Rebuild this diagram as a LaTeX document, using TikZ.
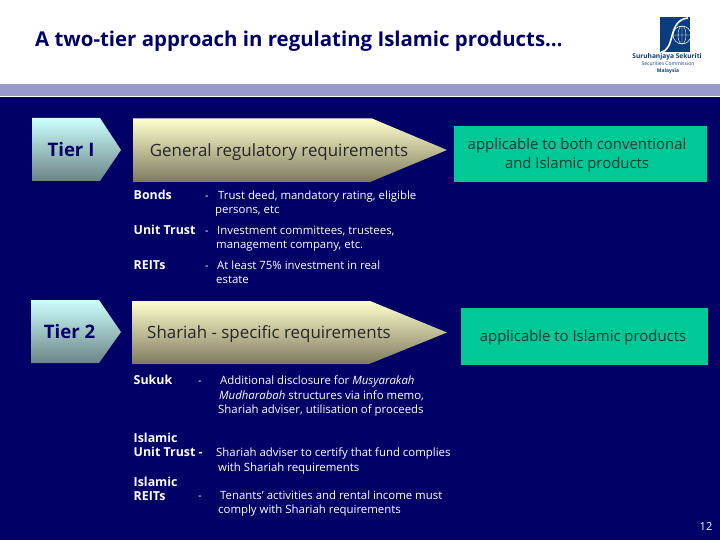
\documentclass[tikz,border=0pt]{standalone}
\usepackage{xcolor}
\usepackage{fontspec}
\setmainfont{Open Sans}
\definecolor{slideNavy}{HTML}{000066}
\definecolor{slideLavender}{HTML}{9999CC}
\definecolor{slideGreen}{HTML}{00C896}
\definecolor{logoBlue}{HTML}{0B3C7D}
\definecolor{tierTop}{HTML}{CCFFFF}
\definecolor{tierBottom}{HTML}{6C8484}
\definecolor{reqTop}{HTML}{FFFFCC}
\definecolor{reqBottom}{HTML}{7F7A60}
\definecolor{greenInk}{HTML}{0A3A32}
\tikzset{
  tierfill/.style={top color=tierTop,bottom color=tierBottom},
  reqfill/.style={top color=reqTop,bottom color=reqBottom},
  tierlabel/.style={text=slideNavy,font=\bfseries\fontsize{18.6}{22}\selectfont,inner sep=0pt},
  reqlabel/.style={text=black!85,font=\fontsize{16.9}{20}\selectfont,inner sep=0pt},
  kindlabel/.style={anchor=north west,align=left,text=white,font=\bfseries\fontsize{12.4}{14.2}\selectfont,inner sep=0pt},
  desclabel/.style={anchor=north west,align=left,text=white,font=\fontsize{11.4}{14.6}\selectfont,inner sep=0pt},
  dashlabel/.style={anchor=north west,text=white,text height=9pt,font=\fontsize{11}{14}\selectfont,inner sep=0pt},
  scopelabel/.style={text=greenInk,align=center,font=\fontsize{14.9}{19}\selectfont,inner sep=0pt},
  logolabel/.style={text=logoBlue,inner sep=0pt}
}
\begin{document}
\begin{tikzpicture}[x=1pt,y=-1pt]
  \useasboundingbox (0,0) rectangle (720,540);
  \fill[slideNavy] (0,0) rectangle (720,540);
  \fill[white] (0,0) rectangle (720,84);
  % Header band
  \fill[slideLavender] (0,84) rectangle (720,96);
  \fill[white] (0,96) rectangle (720,97);
  \node[anchor=west,text=slideNavy,inner sep=0pt,font=\bfseries\fontsize{20.4}{24}\selectfont] (title) at (35,41.5)
    {A two-tier approach in regulating Islamic products…};
  % Logo
  \fill[logoBlue] (660,17) rectangle (690,52);
  \draw[white,line width=0.5pt] (682,35) circle (9);
  \draw[white,line width=0.4pt] (682,26) -- (682,44) (673,35) -- (690,35) (682,35) ellipse (4 and 9);
  \draw[white,line width=1.6pt] (661,52) .. controls (676,50) and (667,20) .. (688,18);
  \node[logolabel,font=\bfseries\fontsize{6.6}{7}\selectfont] (logoname) at (667,57) {Suruhanjaya Sekuriti};
  \node[logolabel,font=\fontsize{5}{6}\selectfont] (logocomm) at (668,64) {Securities Commission};
  \node[logolabel,font=\bfseries\fontsize{5}{6}\selectfont] (logocountry) at (668,71.5) {Malaysia};
  % Tier I row
  \path[tierfill] (32,118) -- (100,118) -- (121,150) -- (100,181) -- (32,181) -- cycle;
  \node[tierlabel] (tierone) at (71,150) {Tier I};
  \path[reqfill] (133,118.5) -- (372,118.5) -- (447,150) -- (370,182) -- (133,182) -- cycle;
  \node[reqlabel] (general) at (279,152.5) {General regulatory requirements};
  \fill[slideGreen] (454,126) rectangle (707,182);
  \node[scopelabel] (bothscope) at (577,155.5) {applicable to both conventional\\and Islamic products};
  % General items
  \node[kindlabel] (bonds) at (133.5,190) {Bonds};
  \node[dashlabel] (bondsdash) at (205,190.5) {-};
  \node[desclabel] (bondstext) at (215,190.5) {\hspace*{3pt}Trust deed, mandatory rating, eligible\\persons, etc};
  \node[kindlabel] (unit) at (133.5,225) {Unit Trust};
  \node[dashlabel] (unitdash) at (205,225.5) {-};
  \node[desclabel] (unittext) at (216,225.5) {\hspace*{1pt}Investment committees, trustees,\\management company, etc.};
  \node[kindlabel] (reits) at (133.5,260) {REITs};
  \node[dashlabel] (reitsdash) at (205,260.5) {-};
  \node[desclabel] (reitstext) at (216,260.5) {\hspace*{1pt}At least 75\% investment in real\\estate};
  % Tier 2 row
  \path[tierfill] (31,300) -- (99,300) -- (121,332) -- (99,363) -- (31,363) -- cycle;
  \node[tierlabel] (tiertwo) at (69.5,332) {Tier 2};
  \path[reqfill] (132,301) -- (370,301) -- (447,332.5) -- (369,364) -- (132,364) -- cycle;
  \node[reqlabel] (shariah) at (269,334.5) {Shariah - specific requirements};
  \fill[slideGreen] (461,308) rectangle (708,365);
  \node[scopelabel] (islamicscope) at (583,337.5) {applicable to Islamic products};
  % Shariah items
  \node[kindlabel] (sukuk) at (133.5,375) {Sukuk};
  \node[dashlabel] (sukukdash) at (198,375.5) {-};
  \node[desclabel] (sukuktext) at (218,375.5) {\hspace*{2pt}Additional disclosure for \textit{Musyarakah}\\\hspace*{1pt}\textit{Mudharabah} structures via info memo,\\Shariah adviser, utilisation of proceeds};
  \node[kindlabel] (islamicunit) at (133.5,433) {Islamic\\Unit Trust -};
  \node[desclabel] (islamicunittext) at (216,447.5) {Shariah adviser to certify that fund complies\\\hspace*{2pt}with Shariah requirements};
  \node[kindlabel] (islamicreits) at (133.5,476.5) {Islamic\\REITs};
  \node[dashlabel] (islamicdash) at (198,490.5) {-};
  \node[desclabel] (islamictext) at (218,490.5) {\hspace*{2pt}Tenants’ activities and rental income must\\comply with Shariah requirements};
  % Page number
  \node[text=white,inner sep=0pt,font=\fontsize{11}{12}\selectfont] (page) at (706,527) {12};
\end{tikzpicture}
\end{document}
